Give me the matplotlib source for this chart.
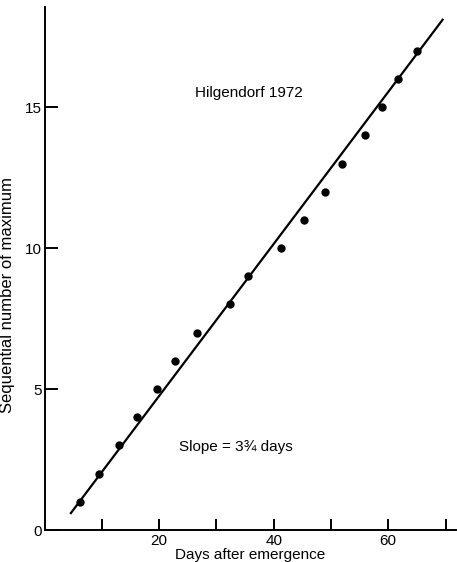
import matplotlib
matplotlib.use("Agg")
import matplotlib.pyplot as plt

plt.rcParams['font.family'] = ['Liberation Sans', 'DejaVu Sans']

# days after emergence for each successive maximum
days = [6.2, 9.5, 13.0, 16.2, 19.7, 22.8, 26.7, 32.4, 35.5, 41.3,
        45.3, 49.0, 51.9, 55.9, 59.0, 61.7, 65.0]
maxima = list(range(1, 18))

# fitted line end points
line_x = [4.6, 69.5]
line_y = [0.6, 18.1]

xticks = [10, 20, 30, 40, 50, 60, 70]
xticklabels = ['', '20', '', '40', '', '60', '']
yticks = [0, 5, 10, 15]

fig = plt.figure(figsize=(4.57, 5.62), dpi=100)
ax = fig.add_axes([0.0974, 0.0569, 0.90, 0.9306])

ax.plot(line_x, line_y, color='black', lw=1.6)
ax.plot(days, maxima, 'o', color='black', ms=5)

ax.set_xlim(0, 71.8)
ax.set_ylim(0, 18.55)
ax.set_xticks(xticks)
ax.set_xticklabels(xticklabels)
ax.set_yticks(yticks)

for s in ['top', 'right']:
    ax.spines[s].set_visible(False)
for s in ['left', 'bottom']:
    ax.spines[s].set_linewidth(1.4)

ax.tick_params(axis='x', direction='in', length=8, width=1.4,
               labelsize=11, pad=3)
ax.tick_params(axis='y', direction='in', length=9, width=1.4,
               labelsize=11, pad=2)

ax.set_xlabel('Days after emergence', fontsize=11, labelpad=0)
ax.set_ylabel('Sequential number of maximum', fontsize=12)
ax.yaxis.set_label_coords(-0.072, 0.45)

ax.text(26.3, 15.5, 'Hilgendorf 1972', fontsize=11, va='center', ha='left')
ax.text(23.5, 2.95, 'Slope = 3\u00be days', fontsize=11, va='center', ha='left')

fig.savefig('out.png', dpi=100)
